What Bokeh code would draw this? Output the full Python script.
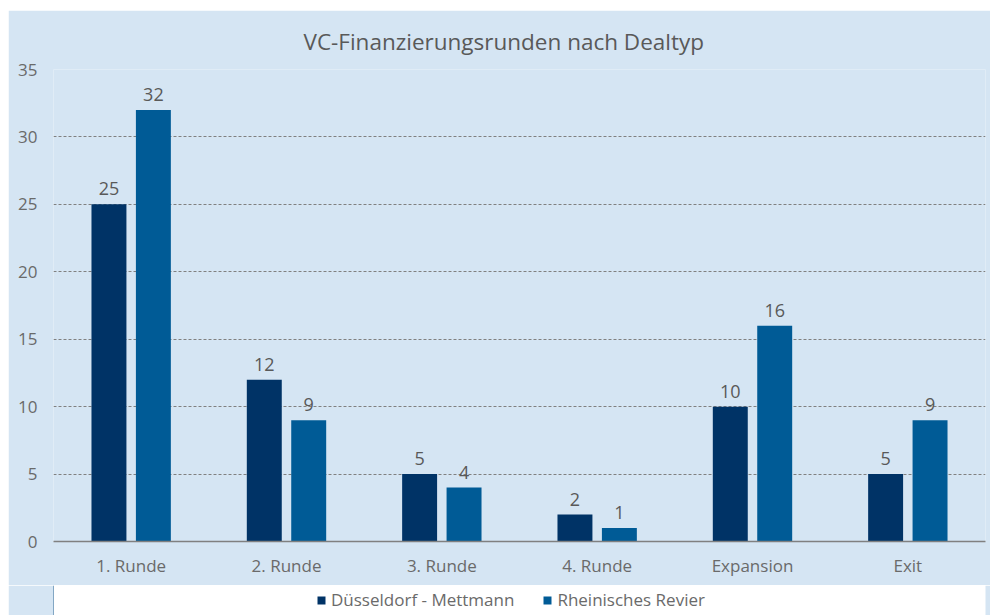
from bokeh.plotting import figure
from bokeh.layouts import column
from bokeh.models import ColumnDataSource, FactorRange, Range1d, Legend, LegendItem, SingleIntervalTicker
from bokeh.transform import dodge
from bokeh.core.properties import value
from bokeh.embed import file_html
from bokeh.resources import INLINE

categories = ["1. Runde", "2. Runde", "3. Runde", "4. Runde", "Expansion", "Exit"]
series_names = ["Düsseldorf - Mettmann", "Rheinisches Revier"]
duesseldorf = [25, 12, 5, 2, 10, 5]
rheinisch = [32, 9, 4, 1, 16, 9]
title_text = "VC-Finanzierungsrunden  nach Dealtyp"

BG = "#d5e5f3"
DARK = "#003366"
LIGHT = "#005b96"
TXT = "#595959"
TICK = "#6a6a6a"
FONT = "Open Sans"

src = ColumnDataSource(dict(cat=categories, d=duesseldorf, r=rheinisch,
                            dl=[str(v) for v in duesseldorf], rl=[str(v) for v in rheinisch]))

p = figure(x_range=FactorRange(*categories), y_range=Range1d(0, 35),
           frame_width=932, frame_height=472, output_backend="svg", toolbar_location=None,
           min_border_left=45, min_border_right=5, min_border_top=59, min_border_bottom=44)
p.background_fill_color = BG
p.border_fill_color = BG
p.outline_line_color = None

p.title.text = title_text
p.title.align = "left"
p.title.offset = 250
p.title.text_font = FONT
p.title.text_font_size = "22.5px"
p.title.text_font_style = "normal"
p.title.text_color = TXT
p.title.standoff = 25

off = 0.143
w = 0.225
rd = p.vbar(x=dodge("cat", -off, range=p.x_range), top="d", width=w, source=src,
            fill_color=DARK, line_color=None)
rr = p.vbar(x=dodge("cat", off, range=p.x_range), top="r", width=w, source=src,
            fill_color=LIGHT, line_color=None)

p.text(x=dodge("cat", -off, range=p.x_range), y="d", text="dl", source=src,
       text_align="center", text_baseline="bottom", y_offset=-9,
       text_font=value(FONT), text_font_size="18px", text_color=TXT)
p.text(x=dodge("cat", off, range=p.x_range), y="r", text="rl", source=src,
       text_align="center", text_baseline="bottom", y_offset=-9,
       text_font=value(FONT), text_font_size="18px", text_color=TXT)

# axes
p.yaxis.ticker = SingleIntervalTicker(interval=5)
p.yaxis.axis_line_color = None
p.yaxis.major_tick_line_color = None
p.yaxis.minor_tick_line_color = None
p.yaxis.major_tick_out = 0
p.yaxis.major_label_standoff = 12
p.yaxis.major_label_text_font = FONT
p.yaxis.major_label_text_font_size = "17px"
p.yaxis.major_label_text_color = TICK

p.xaxis.axis_line_color = "#808080"
p.xaxis.axis_line_width = 1.5
p.xaxis.major_tick_line_color = None
p.xaxis.minor_tick_line_color = None
p.xaxis.major_tick_out = 0
p.xaxis.major_label_standoff = 12
p.xaxis.major_label_text_font = FONT
p.xaxis.major_label_text_font_size = "17px"
p.xaxis.major_label_text_color = TICK

p.xgrid.grid_line_color = None
p.ygrid.grid_line_color = "#808080"
p.ygrid.grid_line_dash = "3 2"
p.ygrid.grid_line_width = 1

# legend strip below the chart
lf = figure(width=982, height=30, x_range=Range1d(0, 1), y_range=Range1d(0, 1),
            output_backend="svg", toolbar_location=None,
            min_border_left=45, min_border_right=5, min_border_top=0, min_border_bottom=0)
lf.axis.visible = False
lf.grid.visible = False
lf.background_fill_color = None
lf.border_fill_color = BG
lf.outline_line_color = None
ld = lf.vbar(x=[-5], top=[1], width=0.1, fill_color=DARK, line_color=None)
lr = lf.vbar(x=[-5], top=[1], width=0.1, fill_color=LIGHT, line_color=None)
legend = Legend(items=[LegendItem(label=series_names[0], renderers=[ld]),
                       LegendItem(label=series_names[1], renderers=[lr])],
                orientation="horizontal", location=(263, 4),
                background_fill_alpha=0, border_line_color=None,
                glyph_width=10, glyph_height=10, label_text_font=FONT,
                label_text_font_size="17px", label_text_color=TICK,
                label_standoff=5, spacing=28, padding=0, margin=0)
lf.add_layout(legend, "center")

layout = column(p, lf, spacing=0)
layout.styles = {"margin-left": "8px", "margin-top": "10px"}

open("out.html", "w").write(file_html(layout, INLINE))
